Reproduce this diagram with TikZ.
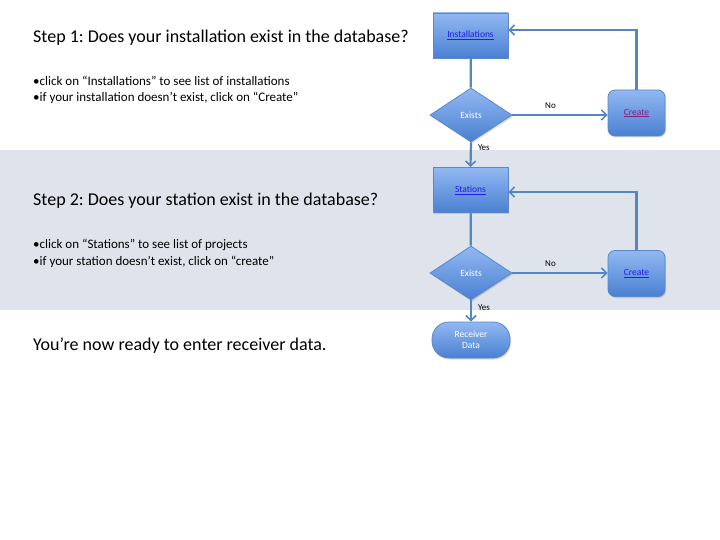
\documentclass[tikz,border=0pt]{standalone}
\usepackage{fontspec}
\setmainfont{Carlito}
\frenchspacing
\usetikzlibrary{shapes.geometric,arrows.meta,shadows}
\definecolor{band}{HTML}{DFE4EC}
\definecolor{linec}{HTML}{5585C2}
\definecolor{boxtop}{HTML}{92B8F2}
\definecolor{boxbot}{HTML}{4A80D2}
\definecolor{boxedge}{HTML}{5A88C6}
\definecolor{linkblue}{HTML}{1F1FE8}
\definecolor{linkpurple}{HTML}{80207F}
\tikzset{
  box/.style={draw=boxedge, line width=0.8pt, top color=boxtop, bottom color=boxbot,
    minimum width=75pt, minimum height=45pt, inner sep=0pt, font=\fontsize{9.5}{10}\selectfont,
    drop shadow={shadow xshift=1pt, shadow yshift=-1.5pt, opacity=0.3}},
  rbox/.style={box, rounded corners=7pt, minimum width=57pt, minimum height=46pt},
  dia/.style={draw=boxedge, line width=0.8pt, top color=boxtop, bottom color=boxbot,
    diamond, aspect=1.55, minimum width=82pt, minimum height=54pt, inner sep=0pt,
    text=white, font=\fontsize{9.5}{10}\selectfont,
    drop shadow={shadow xshift=1pt, shadow yshift=-1.5pt, opacity=0.3}},
  term/.style={box, rounded corners=17pt, minimum width=78pt, minimum height=36pt,
    text=white, align=center, font=\fontsize{9.5}{11.5}\selectfont},
  conn/.style={draw=linec, line width=2.2pt, -{Straight Barb[length=5pt,width=10pt,line width=1.6pt]}},
  plain/.style={draw=linec, line width=2.2pt},
  lbl/.style={font=\fontsize{9}{10}\selectfont, inner sep=0pt},
  title/.style={font=\fontsize{18}{20}\selectfont, anchor=west, inner sep=0pt},
  bullet/.style={font=\fontsize{13}{17}\selectfont, anchor=west, inner sep=0pt, align=left},
}
\newcommand{\lnk}[2]{\textcolor{#1}{\underline{#2}}}
\begin{document}
\begin{tikzpicture}[x=1pt,y=-1pt]
\useasboundingbox (0,0) rectangle (720,540);
\fill[white] (0,0) rectangle (720,540);
\fill[band] (0,150) rectangle (720,310);

% text
\node[title] (t1) at (33,38) {Step 1: Does your installation exist in the database?};
\node[bullet] (b1) at (33,81) {\textbullet click on “Installations” to see list of installations};
\node[bullet] (b2) at (33,98) {\textbullet if your installation doesn’t exist, click on “Create”};
\node[title] (t2) at (33,201) {Step 2: Does your station exist in the database?};
\node[bullet] (b3) at (33,245) {\textbullet click on “Stations” to see list of projects};
\node[bullet] (b4) at (33,262) {\textbullet if your station doesn’t exist, click on “create”};
\node[title] (t3) at (33,346) {You’re now ready to enter receiver data.};

% flow 1
\node[box] (inst) at (470.5,35.5) {\lnk{linkblue}{Installations}};
\node[dia] (ex1) at (471,115) {Exists};
\node[rbox] (cr1) at (636.5,113) {\lnk{linkpurple}{Create}};
% flow 2
\node[box] (sta) at (470.5,190) {\lnk{linkblue}{Stations}};
\node[dia] (ex2) at (471,273) {Exists};
\node[rbox] (cr2) at (636.5,273.5) {\lnk{linkblue}{Create}};
\node[term] (rec) at (471,340) {Receiver\\Data};

\draw[plain] (inst) -- (ex1);
\draw[conn] (ex1.east) -- (ex1.east -| cr1.west) node[lbl, pos=0.4, above=5pt] {No};
\draw[conn] (cr1.north) |- (inst.east |- 0,30);
\draw[conn] (ex1.south) -- (sta.north) node[lbl, pos=0.2, right=6pt] {Yes};

\draw[plain] (sta) -- (ex2);
\draw[conn] (ex2.east) -- (ex2.east -| cr2.west) node[lbl, pos=0.4, above=5pt] {No};
\draw[conn] (cr2.north) |- (sta.east |- 0,192);
\draw[conn] (ex2.south) -- (rec.north) node[lbl, pos=0.35, right=6pt] {Yes};
\end{tikzpicture}
\end{document}
